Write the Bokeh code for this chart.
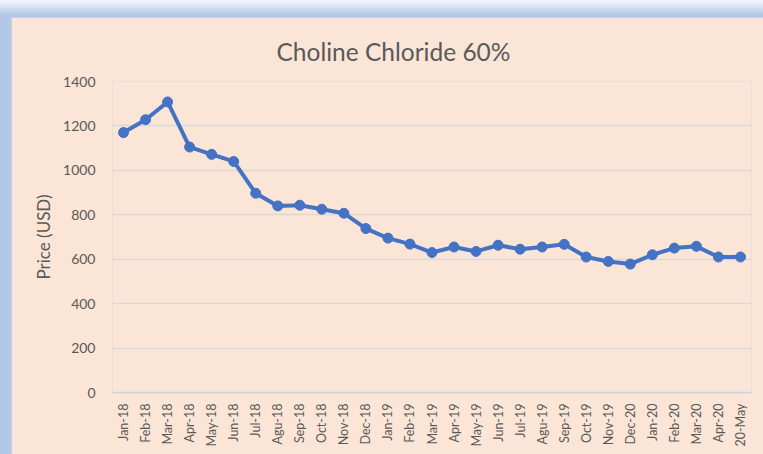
from bokeh.plotting import figure
from bokeh.models import ColumnDataSource, FactorRange, FixedTicker, Range1d, Title
from bokeh.layouts import column
from bokeh.embed import file_html
from bokeh.resources import INLINE

months = ["Jan-18", "Feb-18", "Mar-18", "Apr-18", "May-18", "Jun-18", "Jul-18", "Agu-18",
          "Sep-18", "Oct-18", "Nov-18", "Dec-18", "Jan-19", "Feb-19", "Mar-19", "Apr-19",
          "May-19", "Jun-19", "Jul-19", "Agu-19", "Sep-19", "Oct-19", "Nov-19", "Dec-20",
          "Jan-20", "Feb-20", "Mar-20", "Apr-20", "20-May"]
prices = [1170, 1228, 1308, 1105, 1072, 1040, 897, 840, 843, 825, 807, 738, 695, 668,
          630, 655, 635, 663, 645, 655, 667, 610, 590, 578, 620, 650, 658, 610, 610]
y_ticks = [0, 200, 400, 600, 800, 1000, 1200, 1400]

PEACH = "#fbe5d6"
GRAY = "#595959"
BLUE = "#4472c4"

src = ColumnDataSource(dict(month=months, price=prices))

p = figure(x_range=FactorRange(*months), y_range=Range1d(0, 1400),
           width=752, height=437, output_backend="svg", toolbar_location=None,
           min_border_left=101, min_border_right=12, min_border_top=64, min_border_bottom=62)
p.title = None
p.add_layout(Title(text="Choline Chloride 60%", align="left", offset=164,
                   text_font="Lato", text_font_size="24.5px", text_font_style="normal",
                   text_color=GRAY, standoff=32), "above")

p.background_fill_color = PEACH
p.border_fill_color = PEACH
p.outline_line_color = None

p.line("month", "price", source=src, line_color=BLUE, line_width=4)
p.scatter("month", "price", source=src, size=10, fill_color=BLUE, line_color=BLUE)

p.xgrid.grid_line_color = None
p.ygrid.grid_line_color = "#d9d9d9"
p.ygrid.grid_line_width = 1.5
p.yaxis.ticker = FixedTicker(ticks=y_ticks)

for ax in (p.xaxis, p.yaxis):
    ax.major_tick_line_color = None
    ax.minor_tick_line_color = None
    ax.major_tick_out = 0
    ax.major_tick_in = 0
    ax.major_label_text_color = GRAY
    ax.major_label_text_font = "Lato"

p.yaxis.axis_line_color = None
p.yaxis.major_label_text_font_size = "14px"
p.yaxis.major_label_standoff = 17
p.yaxis.axis_label = "Price (USD)"
p.yaxis.axis_label_text_font = "Lato"
p.yaxis.axis_label_text_font_size = "17px"
p.yaxis.axis_label_text_font_style = "normal"
p.yaxis.axis_label_text_color = GRAY
p.yaxis.axis_label_standoff = 6

p.xaxis.axis_line_color = "#c9d4e3"
p.xaxis.axis_line_width = 1.5
p.xaxis.major_label_text_font_size = "12.5px"
p.xaxis.major_label_orientation = 3.14159265 / 2
p.xaxis.major_label_standoff = 11

layout = column(p, styles={
    "background": "linear-gradient(#f4f7fc 0px, #b4c7e7 15px, #b4c7e7 100%)",
    "padding-left": "11px", "padding-top": "17px"})

open("out.html", "w").write(file_html(layout, INLINE))
